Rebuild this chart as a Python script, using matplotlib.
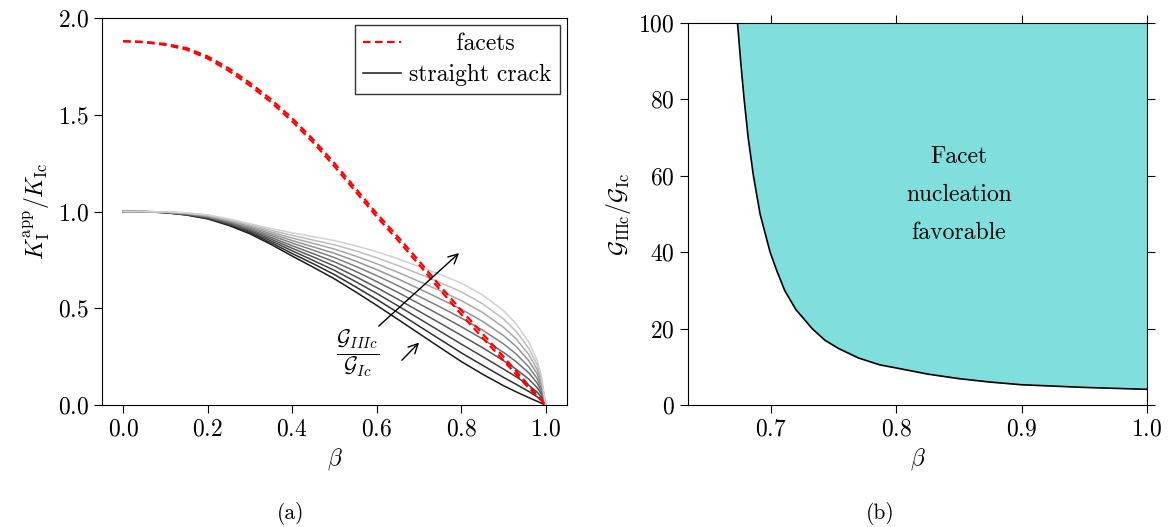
import numpy as np
import matplotlib
matplotlib.use("Agg")
import matplotlib.pyplot as plt

plt.rcParams['font.family'] = 'cmr10'
plt.rcParams['mathtext.fontset'] = 'cm'
plt.rcParams['axes.formatter.use_mathtext'] = True
plt.rcParams['axes.unicode_minus'] = False
plt.rcParams['font.size'] = 17

# === (a) apparent mode-I SIF vs beta ===
beta_facets = [0.0, 0.05, 0.1, 0.15, 0.2, 0.25, 0.3, 0.35, 0.4, 0.45, 0.5,
               0.55, 0.6, 0.65, 0.7, 0.75, 0.8, 0.85, 0.9, 0.95, 1.0]
facets_1 = [1.880, 1.877, 1.866, 1.845, 1.802, 1.740, 1.665, 1.580, 1.482, 1.372, 1.250,
            1.120, 0.990, 0.870, 0.745, 0.615, 0.490, 0.370, 0.250, 0.125, 0.0]
facets_2 = [1.880, 1.875, 1.861, 1.837, 1.791, 1.727, 1.651, 1.565, 1.466, 1.356, 1.233,
            1.103, 0.973, 0.852, 0.726, 0.595, 0.469, 0.349, 0.230, 0.111, 0.0]

beta_straight = [0.0, 0.05, 0.1, 0.15, 0.2, 0.25, 0.3, 0.35, 0.4, 0.45, 0.5, 0.55,
                 0.6, 0.65, 0.7, 0.75, 0.8, 0.85, 0.9, 0.93, 0.96, 0.98, 0.99, 1.0]
# one row per beta value; columns go from the lowest G_IIIc/G_Ic (darkest) to the highest
straight_crack_rows = [
    [1.000, 1.000, 1.000, 1.000, 1.000, 1.000, 1.000, 1.000, 1.000, 1.000],
    [0.999, 0.999, 0.999, 0.999, 1.000, 1.000, 1.000, 1.000, 1.000, 1.000],
    [0.994, 0.994, 0.995, 0.995, 0.996, 0.996, 0.997, 0.997, 0.998, 0.998],
    [0.982, 0.983, 0.984, 0.986, 0.987, 0.988, 0.989, 0.991, 0.992, 0.993],
    [0.962, 0.964, 0.967, 0.969, 0.971, 0.974, 0.976, 0.978, 0.981, 0.983],
    [0.928, 0.932, 0.936, 0.939, 0.943, 0.947, 0.951, 0.954, 0.958, 0.962],
    [0.885, 0.891, 0.897, 0.902, 0.908, 0.914, 0.920, 0.925, 0.931, 0.937],
    [0.830, 0.839, 0.848, 0.857, 0.866, 0.876, 0.885, 0.894, 0.903, 0.912],
    [0.770, 0.783, 0.797, 0.810, 0.823, 0.837, 0.850, 0.863, 0.877, 0.890],
    [0.712, 0.730, 0.747, 0.765, 0.782, 0.800, 0.817, 0.835, 0.852, 0.870],
    [0.652, 0.674, 0.696, 0.718, 0.740, 0.762, 0.784, 0.806, 0.828, 0.850],
    [0.585, 0.611, 0.638, 0.664, 0.691, 0.717, 0.744, 0.770, 0.797, 0.823],
    [0.515, 0.546, 0.577, 0.607, 0.638, 0.669, 0.700, 0.730, 0.761, 0.792],
    [0.443, 0.478, 0.513, 0.547, 0.582, 0.617, 0.652, 0.686, 0.721, 0.756],
    [0.370, 0.408, 0.447, 0.485, 0.524, 0.562, 0.601, 0.639, 0.678, 0.716],
    [0.297, 0.339, 0.381, 0.423, 0.465, 0.507, 0.549, 0.591, 0.633, 0.675],
    [0.225, 0.270, 0.315, 0.360, 0.405, 0.450, 0.495, 0.540, 0.585, 0.630],
    [0.160, 0.206, 0.251, 0.297, 0.342, 0.388, 0.433, 0.479, 0.524, 0.570],
    [0.100, 0.143, 0.186, 0.229, 0.272, 0.316, 0.359, 0.402, 0.445, 0.488],
    [0.068, 0.107, 0.146, 0.185, 0.224, 0.264, 0.303, 0.342, 0.381, 0.420],
    [0.038, 0.070, 0.102, 0.134, 0.166, 0.197, 0.229, 0.261, 0.293, 0.325],
    [0.019, 0.042, 0.066, 0.089, 0.113, 0.136, 0.160, 0.183, 0.207, 0.230],
    [0.009, 0.025, 0.040, 0.056, 0.072, 0.087, 0.103, 0.119, 0.134, 0.150],
    [0.000, 0.000, 0.000, 0.000, 0.000, 0.000, 0.000, 0.000, 0.000, 0.000],
]

# === (b) facet nucleation boundary ===
beta_boundary = [0.6735, 0.676, 0.6788, 0.682, 0.6862, 0.6915, 0.6995, 0.705, 0.7111,
                 0.720, 0.733, 0.743, 0.754, 0.770, 0.787, 0.800, 0.825, 0.850,
                 0.875, 0.900, 0.950, 1.000]
g_ratio_boundary = [100, 90, 80, 70, 60, 50, 40, 35, 30,
                    25, 20, 17, 14.8, 12.3, 10.5, 9.7, 8.1, 6.9,
                    6.0, 5.3, 4.6, 4.1]

fig = plt.figure(figsize=(11.68, 5.27), dpi=100)
ax1 = fig.add_axes([0.0873, 0.2315, 0.398, 0.7343])
ax2 = fig.add_axes([0.589, 0.2315, 0.393, 0.725])

curves = np.array(straight_crack_rows).T
n = len(curves)
for i, row in enumerate(curves):
    g = 0.1 + 0.72 * i / (n - 1)
    ax1.plot(beta_straight, row, color=(g, g, g), lw=1.1,
             label='straight crack' if i == 0 else None)
ax1.plot(beta_facets, facets_1, color='red', lw=1.6, ls=(0, (3.4, 2.0)),
         label='      facets')
ax1.plot(beta_facets, facets_2, color='red', lw=1.6, ls=(0, (3.4, 2.0)))

ax1.set_xlim(-0.05, 1.05)
ax1.set_ylim(0, 2.0)
ax1.set_xticks(np.arange(0, 1.01, 0.2))
ax1.set_yticks(np.arange(0, 2.01, 0.5))
ax1.set_xlabel(r'$\beta$')
ax1.set_ylabel(r'$K_{\mathrm{I}}^{\mathrm{app}}/K_{\mathrm{Ic}}$')

h, l = ax1.get_legend_handles_labels()
leg = ax1.legend(h[::-1], l[::-1], loc='upper right', fancybox=False,
                 edgecolor='#333333', framealpha=1, handlelength=1.6,
                 handletextpad=0.35, borderaxespad=0.3, labelspacing=0.35,
                 borderpad=0.35)
leg.get_frame().set_linewidth(1.0)

ax1.annotate('', xy=(0.80, 0.795), xytext=(0.60, 0.398),
             arrowprops=dict(arrowstyle='->', lw=1.0, color='black'))
ax1.annotate('', xy=(0.705, 0.333), xytext=(0.655, 0.221),
             arrowprops=dict(arrowstyle='->', lw=1.0, color='black'))
ax1.text(0.556, 0.264, r'$\frac{\mathcal{G}_{IIIc}}{\mathcal{G}_{Ic}}$',
         ha='center', va='center', fontsize=22)

# (b)
ax2.fill_between(beta_boundary, g_ratio_boundary, 100, color='#80dfdd', lw=0)
ax2.plot(beta_boundary, g_ratio_boundary, color='black', lw=1.2)
ax2.set_xlim(0.634, 1.0)
ax2.set_ylim(0, 100)
ax2.set_xticks([0.7, 0.8, 0.9, 1.0])
ax2.set_yticks(np.arange(0, 101, 20))
ax2.tick_params(top=True, right=True)
ax2.set_xlabel(r'$\beta$')
ax2.set_ylabel(r'$\mathcal{G}_{\mathrm{IIIc}}/\mathcal{G}_{\mathrm{Ic}}$')
ax2.text(0.85, 55, 'Facet\nnucleation\nfavorable', ha='center', va='center',
         linespacing=1.95)

for ax in (ax1, ax2):
    ax.tick_params(direction='out', length=6, width=0.8)
    for s in ax.spines.values():
        s.set_linewidth(0.8)

fig.text(0.249, 0.026, '(a)', ha='center', va='center', fontsize=15.5)
fig.text(0.754, 0.026, '(b)', ha='center', va='center', fontsize=15.5)

fig.savefig('out.png', dpi=100)
